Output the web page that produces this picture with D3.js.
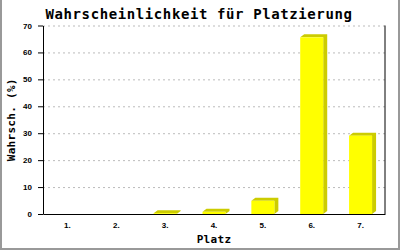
<!DOCTYPE html>
<meta charset="utf-8">
<style>
    body {
        margin: 0;
        padding: 0;
        background: #fff;
    }

    svg {
        display: block;
        font-family: "DejaVu Sans Mono", "Liberation Mono", monospace;
        font-weight: bold;
    }

    .grid line {
        stroke: #bbbbbb;
        stroke-dasharray: 2, 3;
    }

    .grid .domain {
        display: none;
    }

    .axis path,
    .axis line {
        stroke: #000;
    }
</style>
<svg width="400" height="250"></svg>
<script src="https://d3js.org/d3.v7.min.js"></script>
<script>
    var places = ["1.", "2.", "3.", "4.", "5.", "6.", "7."];
    var probs = [0, 0, 0.3, 0.8, 4.9, 65.6, 29.1];
    var yTicks = [0, 10, 20, 30, 40, 50, 60, 70];

    var svg = d3.select("svg");
    var W = 400, H = 250;
    var mLeft = 43, mRight = 385, mTop = 25.5, mBottom = 214;

    // frame
    svg.append("rect").attr("width", W).attr("height", H).attr("fill", "#fff");
    svg.append("path")
        .attr("d", "M1,0V249H399V0")
        .attr("fill", "none")
        .attr("stroke", "#999")
        .attr("stroke-width", 2);

    var x = d3.scaleBand().domain(places).range([mLeft, mRight]);
    var y = d3.scaleLinear().domain([0, 70]).range([mBottom, mTop]);

    // gridlines
    svg.append("g")
        .attr("class", "grid")
        .attr("transform", "translate(" + mLeft + ",0)")
        .call(d3.axisLeft(y).tickValues(yTicks.slice(1)).tickSize(-(mRight - mLeft)).tickFormat(""));

    // bars (front + dark top/side)
    var bw = 23, dx = 4, dy = 3;
    var bars = svg.append("g").selectAll("g")
        .data(places.map(function(p, i) { return {p: p, v: probs[i]}; }).filter(function(d) { return d.v > 0; }))
        .enter().append("g");

    bars.append("path")
        .attr("fill", "#cccc00")
        .attr("d", function(d) {
            var x0 = x(d.p) + x.bandwidth() / 2 - bw / 2, x1 = x0 + bw;
            var yt = y(d.v), yb = y(0);
            return "M" + x0 + "," + yt + "L" + (x0 + dx) + "," + (yt - dy) +
                "L" + (x1 + dx) + "," + (yt - dy) + "L" + (x1 + dx) + "," + (yb - dy) +
                "L" + x1 + "," + yb + "L" + x1 + "," + yt + "Z";
        });

    bars.append("rect")
        .attr("fill", "#ffff00")
        .attr("x", function(d) { return x(d.p) + x.bandwidth() / 2 - bw / 2; })
        .attr("y", function(d) { return y(d.v); })
        .attr("width", bw)
        .attr("height", function(d) { return y(0) - y(d.v); });

    // axes
    var yAxis = svg.append("g")
        .attr("class", "axis")
        .attr("transform", "translate(" + mLeft + ",0)")
        .call(d3.axisLeft(y).tickValues(yTicks).tickSize(5).tickPadding(6).tickSizeOuter(0));
    yAxis.selectAll("text").attr("font-size", 8).attr("font-family", null).attr("fill", "#000");

    var xAxis = svg.append("g")
        .attr("class", "axis")
        .attr("transform", "translate(0," + mBottom + ")")
        .call(d3.axisBottom(x).tickSize(0).tickPadding(8).tickSizeOuter(0));
    xAxis.selectAll("text").attr("font-size", 8).attr("font-family", null).attr("fill", "#000");

    svg.append("line")
        .attr("x1", mRight).attr("x2", mRight)
        .attr("y1", mTop).attr("y2", mBottom)
        .attr("stroke", "#000");

    // titles
    svg.append("text")
        .attr("x", 199).attr("y", 19)
        .attr("text-anchor", "middle")
        .attr("font-size", 14)
        .attr("letter-spacing", 0.6)
        .text("Wahrscheinlichkeit für Platzierung");

    svg.append("text")
        .attr("x", (mLeft + mRight) / 2).attr("y", 243)
        .attr("text-anchor", "middle")
        .attr("font-size", 11)
        .attr("letter-spacing", 0.3)
        .text("Platz");

    svg.append("text")
        .attr("transform", "translate(15," + ((mTop + mBottom) / 2) + ") rotate(-90)")
        .attr("text-anchor", "middle")
        .attr("font-size", 11)
        .attr("letter-spacing", 0.3)
        .text("Wahrsch. (%)");
</script>
